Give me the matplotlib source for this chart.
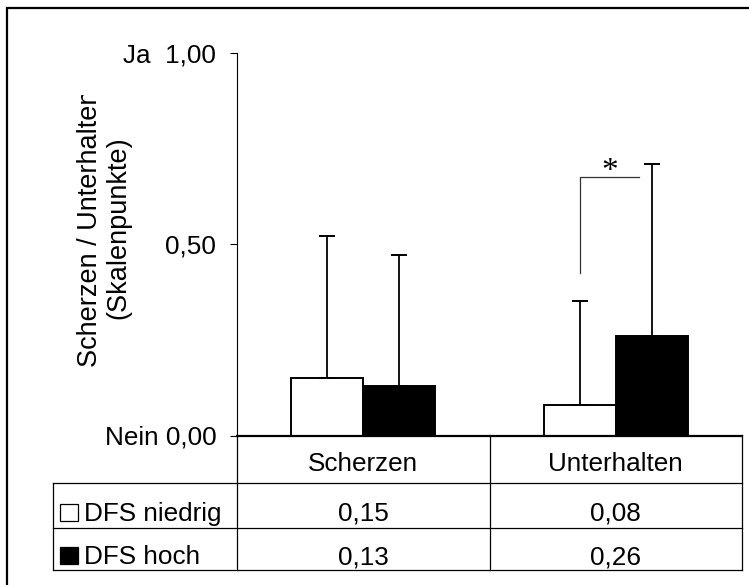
import numpy as np
import matplotlib.pyplot as plt
from matplotlib.patches import Rectangle
from matplotlib.lines import Line2D
from matplotlib.transforms import blended_transform_factory, Bbox, TransformedBbox

# Data
categories = ['Scherzen', 'Unterhalten']
groups = ['DFS niedrig', 'DFS hoch']
means_niedrig = [0.15, 0.08]
means_hoch = [0.13, 0.26]
sd_niedrig = [0.37, 0.27]
sd_hoch = [0.34, 0.45]
yticks = [0.0, 0.5, 1.0]
ytick_labels = ['Nein 0,00', '0,50', 'Ja  1,00']

W, H = 749, 585
FS = 18.8
plt.rcParams['font.family'] = ['Liberation Sans', 'DejaVu Sans']


def fx(x):
    return x / W


def fy(y):
    return 1 - y / H


def fmt(v):
    return f'{v:.2f}'.replace('.', ',')


fig = plt.figure(figsize=(W / 100, H / 100), dpi=100)
ax = fig.add_axes([fx(237), fy(435.5), fx(742) - fx(237), fy(52.5) - fy(435.5)])

x = np.arange(len(categories))
bw = 0.285
err_kw = dict(ecolor='black', elinewidth=1.3, capsize=6, capthick=1.4)
ax.bar(x - bw / 2, means_niedrig, bw, color='white', edgecolor='black', linewidth=1.4,
       yerr=[np.zeros(len(x)), sd_niedrig], error_kw=err_kw, zorder=2)
ax.bar(x + bw / 2, means_hoch, bw, color='black', edgecolor='black', linewidth=1.4,
       yerr=[np.zeros(len(x)), sd_hoch], error_kw=err_kw, zorder=2)

ax.set_xlim(-0.5, len(categories) - 0.5)
ax.set_ylim(0, 1)
ax.set_xticks([])
ax.set_yticks(yticks)
ax.set_yticklabels(ytick_labels)
ax.tick_params(axis='y', length=5, width=0.8, pad=10, labelsize=FS)
for s in ['top', 'right']:
    ax.spines[s].set_visible(False)
ax.spines['left'].set_linewidth(0.8)
ax.spines['bottom'].set_linewidth(1.6)

# significance bracket between the Unterhalten bars
ax.plot([0.857, 0.857, 1.092], [0.424, 0.675, 0.675], color='#333333', lw=0.9)
ax.text(0.977, 0.688, '*', ha='center', va='center', fontsize=24, family='Liberation Serif')

# data table under the plot
tr = blended_transform_factory(ax.transData, fig.transFigure)
for xv in [-0.5, 0.5, 1.5]:
    fig.add_artist(Line2D([xv, xv], [fy(435), fy(570)], transform=tr, color='black', lw=0.9))
for yv in [483, 528, 570]:
    fig.add_artist(Line2D([fx(53), fx(742)], [fy(yv), fy(yv)], transform=fig.transFigure,
                          color='black', lw=0.9))
fig.add_artist(Line2D([fx(53), fx(53)], [fy(483), fy(570)], transform=fig.transFigure,
                      color='black', lw=0.9))

for i, cat in enumerate(categories):
    fig.text(i, fy(471), cat, transform=tr, ha='center', va='baseline', fontsize=FS)
    fig.text(i, fy(521), fmt(means_niedrig[i]), transform=tr, ha='center', va='baseline', fontsize=FS)
    fig.text(i, fy(564), fmt(means_hoch[i]), transform=tr, ha='center', va='baseline', fontsize=FS)

for name, color, base in [(groups[0], 'white', 521), (groups[1], 'black', 564)]:
    fig.add_artist(Rectangle((fx(60), fy(base)), fx(78) - fx(60), fy(base - 17) - fy(base),
                             transform=fig.transFigure, facecolor=color, edgecolor='black', lw=0.9))
    fig.text(fx(84), fy(base), name, ha='left', va='baseline', fontsize=FS)

# y label, top of first line cut off by its box
yl = fig.text(fx(104), fy(228), 'Scherzen / Unterhalten\n(Skalenpunkte)', rotation=90,
              ha='center', va='center', multialignment='center', fontsize=19.5, linespacing=1.1)
yl.set_clip_box(TransformedBbox(Bbox([[0, 0], [1, fy(95)]]), fig.transFigure))
yl.set_clip_on(True)

# outer frame
fig.add_artist(Rectangle((fx(7), fy(600)), 2, fy(8) - fy(600), transform=fig.transFigure,
                         fill=False, edgecolor='black', lw=1.6))

fig.savefig('out.png', dpi=100)
